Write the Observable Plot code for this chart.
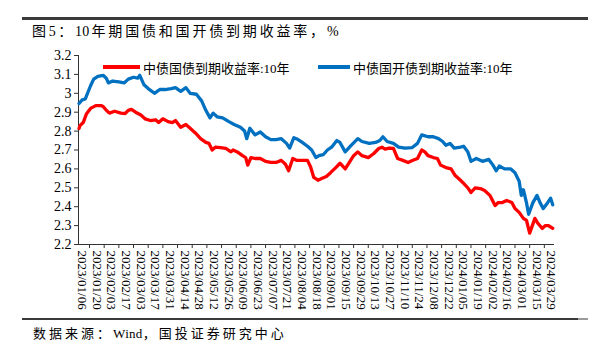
<!DOCTYPE html>
<html>
<head>
<meta charset="utf-8">
<script src="https://cdn.jsdelivr.net/npm/d3@7"></script>
<script src="https://cdn.jsdelivr.net/npm/@observablehq/plot@0.6"></script>
<style>
  html, body { margin: 0; padding: 0; background: #fff; }
  #wrap { position: relative; width: 600px; height: 352px; overflow: hidden; font-family: "Liberation Serif", "Noto Sans CJK SC", serif; color: #000; }
  .rule { position: absolute; height: 2px; background: #3a3a3a; }
  #title { position: absolute; left: 32px; top: 22px; font-size: 14px; letter-spacing: 2.8px; line-height: 20px; white-space: nowrap; }
  #source { position: absolute; left: 33px; top: 324px; font-size: 13px; letter-spacing: 3px; line-height: 20px; white-space: nowrap; }
  #title .lat { letter-spacing: 0.3px; margin-right: 2px; }
  #source .lat { letter-spacing: 0.3px; }
  #chart { position: absolute; left: 0; top: 45px; }
  .leg { position: absolute; top: 58px; height: 18px; display: flex; align-items: center; font-size: 13px; white-space: nowrap; }
  .sw { width: 37px; height: 4px; margin-right: 3px; }
</style>
</head>
<body>
<div id="wrap">
  <div class="rule" style="left:22px; top:17px; width:566px; height:3px;"></div>
  <div id="title"></div>
  <div id="chart"></div>
  <div id="legend"></div>
  <div class="rule" style="left:22px; top:318px; width:556px;"></div>
  <div class="rule" style="left:578px; top:318px; width:10px; background:#9a9a9a;"></div>
  <div id="source"></div>
</div>
<script>
const titleText = "图5：10年期国债和国开债到期收益率，%";
const sourceText = "数据来源：Wind，国投证券研究中心";
const seriesNames = ["中债国债到期收益率:10年", "中债国开债到期收益率:10年"];
const seriesColors = ["#FF0000", "#0070C0"];

// 中债国债到期收益率:10年
const govDates = ["2023-01-03","2023-01-04","2023-01-07","2023-01-10","2023-01-14","2023-01-19","2023-01-24","2023-01-26","2023-01-29","2023-02-01","2023-02-06","2023-02-12","2023-02-16","2023-02-19","2023-02-22","2023-02-26","2023-03-03","2023-03-07","2023-03-12","2023-03-17","2023-03-20","2023-03-24","2023-03-29","2023-04-02","2023-04-05","2023-04-10","2023-04-15","2023-04-19","2023-04-24","2023-04-29","2023-05-04","2023-05-07","2023-05-10","2023-05-13","2023-05-18","2023-05-23","2023-05-28","2023-05-30","2023-06-03","2023-06-08","2023-06-11","2023-06-13","2023-06-16","2023-06-20","2023-06-25","2023-06-30","2023-07-05","2023-07-10","2023-07-15","2023-07-19","2023-07-22","2023-07-26","2023-07-30","2023-08-04","2023-08-09","2023-08-12","2023-08-15","2023-08-19","2023-08-23","2023-08-27","2023-08-31","2023-09-05","2023-09-09","2023-09-14","2023-09-19","2023-09-22","2023-09-26","2023-09-30","2023-10-06","2023-10-11","2023-10-16","2023-10-19","2023-10-22","2023-10-26","2023-10-30","2023-11-03","2023-11-08","2023-11-13","2023-11-17","2023-11-22","2023-11-26","2023-11-29","2023-12-02","2023-12-07","2023-12-11","2023-12-14","2023-12-19","2023-12-24","2023-12-28","2024-01-02","2024-01-05","2024-01-09","2024-01-12","2024-01-16","2024-01-21","2024-01-25","2024-01-30","2024-02-04","2024-02-07","2024-02-11","2024-02-15","2024-02-20","2024-02-23","2024-02-27","2024-03-02","2024-03-05","2024-03-08","2024-03-13","2024-03-16","2024-03-20","2024-03-23","2024-03-26","2024-03-30"];
const govValues = [2.814,2.83,2.845,2.89,2.92,2.935,2.935,2.93,2.91,2.895,2.905,2.895,2.893,2.91,2.915,2.90,2.885,2.865,2.856,2.86,2.845,2.865,2.85,2.845,2.856,2.82,2.835,2.815,2.79,2.76,2.74,2.735,2.70,2.715,2.713,2.708,2.69,2.70,2.69,2.67,2.66,2.62,2.66,2.655,2.655,2.64,2.634,2.634,2.645,2.625,2.59,2.655,2.645,2.645,2.645,2.61,2.555,2.54,2.55,2.56,2.58,2.607,2.63,2.60,2.644,2.67,2.69,2.67,2.66,2.68,2.708,2.715,2.705,2.71,2.708,2.655,2.645,2.634,2.644,2.655,2.70,2.69,2.67,2.66,2.655,2.62,2.607,2.60,2.565,2.54,2.523,2.50,2.475,2.50,2.496,2.486,2.46,2.406,2.422,2.422,2.433,2.422,2.39,2.37,2.338,2.327,2.26,2.338,2.311,2.285,2.30,2.30,2.285];

// 中债国开债到期收益率:10年
const cdbDates = ["2023-01-03","2023-01-06","2023-01-09","2023-01-14","2023-01-17","2023-01-21","2023-01-26","2023-01-29","2023-01-31","2023-02-04","2023-02-10","2023-02-15","2023-02-19","2023-02-24","2023-02-28","2023-03-02","2023-03-06","2023-03-10","2023-03-16","2023-03-21","2023-03-26","2023-04-01","2023-04-05","2023-04-10","2023-04-15","2023-04-19","2023-04-25","2023-04-30","2023-05-04","2023-05-08","2023-05-11","2023-05-15","2023-05-20","2023-05-26","2023-05-31","2023-06-06","2023-06-10","2023-06-12","2023-06-15","2023-06-20","2023-06-25","2023-06-30","2023-07-05","2023-07-10","2023-07-15","2023-07-20","2023-07-23","2023-07-27","2023-07-31","2023-08-04","2023-08-09","2023-08-13","2023-08-17","2023-08-20","2023-08-24","2023-08-28","2023-09-01","2023-09-06","2023-09-09","2023-09-14","2023-09-19","2023-09-26","2023-09-30","2023-10-07","2023-10-13","2023-10-17","2023-10-20","2023-10-24","2023-10-30","2023-11-04","2023-11-10","2023-11-17","2023-11-22","2023-11-26","2023-12-02","2023-12-07","2023-12-12","2023-12-16","2023-12-19","2023-12-23","2023-12-27","2024-01-02","2024-01-05","2024-01-09","2024-01-12","2024-01-17","2024-01-23","2024-01-29","2024-02-02","2024-02-05","2024-02-08","2024-02-13","2024-02-19","2024-02-23","2024-02-27","2024-02-29","2024-03-02","2024-03-05","2024-03-07","2024-03-11","2024-03-15","2024-03-18","2024-03-21","2024-03-25","2024-03-28","2024-03-30"];
const cdbValues = [2.946,2.965,2.97,3.04,3.075,3.09,3.095,3.08,3.055,3.065,3.06,3.055,3.075,3.085,3.08,3.095,3.045,3.025,3.0,3.02,3.02,3.025,3.03,3.01,3.03,3.0,2.995,2.96,2.91,2.87,2.895,2.875,2.87,2.85,2.835,2.82,2.80,2.76,2.815,2.78,2.795,2.77,2.755,2.755,2.76,2.735,2.71,2.765,2.755,2.74,2.72,2.70,2.66,2.67,2.675,2.70,2.715,2.75,2.74,2.69,2.72,2.76,2.745,2.735,2.74,2.75,2.77,2.745,2.735,2.715,2.71,2.713,2.735,2.78,2.77,2.77,2.76,2.745,2.725,2.735,2.71,2.715,2.72,2.69,2.64,2.655,2.64,2.65,2.62,2.59,2.615,2.60,2.60,2.58,2.535,2.46,2.49,2.42,2.36,2.42,2.46,2.42,2.39,2.42,2.445,2.41];

const xLabelDates = ["2023-01-06","2023-01-20","2023-02-03","2023-02-17","2023-03-03","2023-03-17","2023-03-31","2023-04-14","2023-04-28","2023-05-12","2023-05-26","2023-06-09","2023-06-23","2023-07-07","2023-07-21","2023-08-04","2023-08-18","2023-09-01","2023-09-15","2023-09-29","2023-10-13","2023-10-27","2023-11-10","2023-11-24","2023-12-08","2023-12-22","2024-01-05","2024-01-19","2024-02-02","2024-02-16","2024-03-01","2024-03-15","2024-03-29"];
const yTicks = [2.2,2.3,2.4,2.5,2.6,2.7,2.8,2.9,3.0,3.1,3.2];
const xDomainText = ["2023-01-02T12:00Z", "2024-03-30T18:00Z"];

function fillSpaced(el, text) {
  text.match(/[A-Za-z0-9]+|[^A-Za-z0-9]/g).forEach(part => {
    const s = document.createElement("span");
    if (/^[A-Za-z0-9]+$/.test(part)) s.className = "lat";
    s.textContent = part;
    el.appendChild(s);
  });
}
fillSpaced(document.getElementById("title"), titleText);
fillSpaced(document.getElementById("source"), sourceText);

const parse = s => new Date(s);
const gov = govDates.map((d, i) => ({date: parse(d), value: govValues[i]}));
const cdb = cdbDates.map((d, i) => ({date: parse(d), value: cdbValues[i]}));
const labelDates = xLabelDates.map(parse);
const xDomain = xDomainText.map(parse);
const tickDates = labelDates.map(d => d3.utcDay.offset(d, 7)).filter(d => d <= xDomain[1]);

const chart = Plot.plot({
  width: 600,
  height: 272,
  marginLeft: 78,
  marginRight: 47,
  marginTop: 10,
  marginBottom: 73,
  style: {fontFamily: "'Liberation Serif', serif", fontSize: "13px", color: "#000", background: "transparent", overflow: "visible"},
  x: {type: "utc", domain: xDomain, label: null},
  y: {domain: [2.2, 3.2], label: null},
  marks: [
    Plot.axisY({ticks: yTicks, tickSize: 4, tickPadding: 3, fontSize: 14, tickFormat: d => String(+d.toFixed(1)), stroke: "#333"}),
    Plot.axisX({ticks: labelDates, tickSize: 0, tickPadding: 6, tickRotate: 90, fontSize: 13, tickFormat: d3.utcFormat("%Y/%m/%d")}),
    Plot.axisX({ticks: tickDates, tickSize: 4, tickFormat: () => "", stroke: "#333"}),
    Plot.frame({anchor: "left", stroke: "#333"}),
    Plot.frame({anchor: "bottom", stroke: "#333"}),
    Plot.lineY(gov, {x: "date", y: "value", stroke: seriesColors[0], strokeWidth: 3.3, strokeLinejoin: "round"}),
    Plot.lineY(cdb, {x: "date", y: "value", stroke: seriesColors[1], strokeWidth: 3.3, strokeLinejoin: "round"})
  ]
});
document.getElementById("chart").appendChild(chart);

const legendPos = [103, 318];
const legend = document.getElementById("legend");
seriesNames.forEach((name, i) => {
  const item = document.createElement("div");
  item.className = "leg";
  item.style.left = legendPos[i] + "px";
  const sw = document.createElement("div");
  sw.className = "sw";
  sw.style.background = seriesColors[i];
  if (i === 1) sw.style.width = "32px";
  const tx = document.createElement("span");
  tx.textContent = name;
  item.appendChild(sw);
  item.appendChild(tx);
  legend.appendChild(item);
});
</script>
</body>
</html>
